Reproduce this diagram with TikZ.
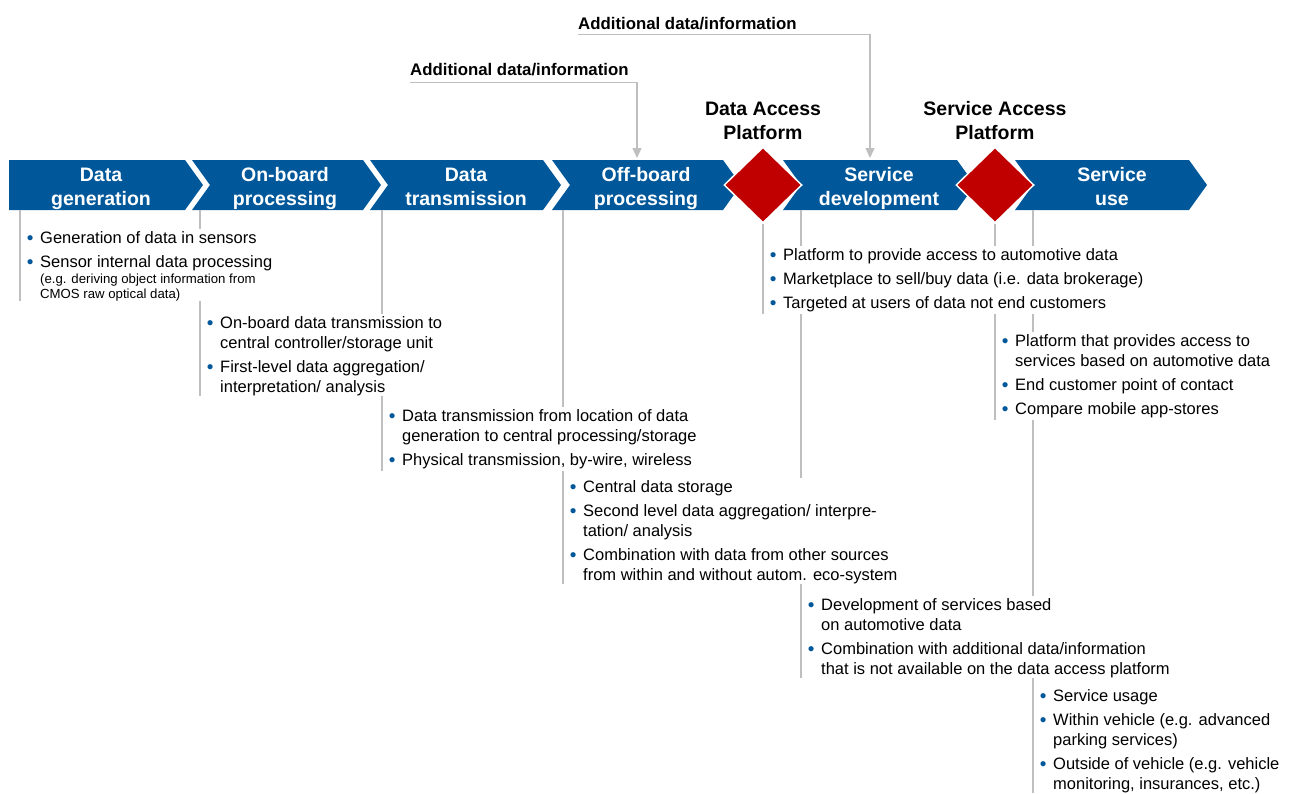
\documentclass[tikz,border=0pt]{standalone}
\usepackage{fontspec}
\setmainfont{Liberation Sans}
\usetikzlibrary{shapes.geometric, arrows.meta}
\definecolor{chevblue}{RGB}{0, 88, 155}
\definecolor{diared}{RGB}{192, 0, 0}
\definecolor{lightgrey}{RGB}{191, 191, 191}
\newcommand{\bul}{\strut\makebox[20pt]{\textcolor{chevblue}{\raisebox{-1.5pt}{\fontsize{19}{20}\selectfont •}}}}
\newcommand{\ind}{\hspace*{20pt}}
\newcommand{\notefont}{\fontsize{13.2}{15}\selectfont}

\begin{document}
\begin{tikzpicture}[x=1pt, y=-1pt,
  stage/.style={anchor=north, inner sep=0pt, align=center, text=white, font=\fontsize{19.5}{24}\selectfont\bfseries},
  platform/.style={diamond, minimum width=78pt, minimum height=76pt, inner sep=0pt, fill=diared, draw=white, line width=1.5pt},
  platlabel/.style={anchor=north, inner sep=0pt, align=center, font=\fontsize{19.5}{24}\selectfont\bfseries},
  notes/.style={anchor=north west, inner sep=0pt, align=left, fill=white, font=\fontsize{16.5}{20}\selectfont},
  guide/.style={draw=lightgrey, line width=1.3pt},
  addinfo/.style={anchor=base west, inner xsep=0pt, inner ysep=7pt, font=\fontsize{16.8}{20}\selectfont\bfseries},
  feed/.style={guide, -{Triangle[length=10pt, width=9pt]}}]

\useasboundingbox (0,0) rectangle (1290,793);
\coordinate (bandbot) at (0,210);
\coordinate (offin) at (637,158);
\coordinate (devin) at (870,158);

% value chain
\fill[chevblue] (9,160) -- (185,160) -- (203,185) -- (185,210) -- (9,210) -- cycle;
\foreach \a/\b in {192/363, 370/543, 552/723, 783/957, 1015/1189}
  \fill[chevblue] (\a,160) -- (\b,160) -- (\b+18,185) -- (\b,210) -- (\a,210) -- (\a+18,185) -- cycle;

\node[stage] (gen) at (101,164.2) {\strut Data\\generation};
\node[stage] (onb) at (285,164.2) {\strut On-board\\processing};
\node[stage] (trans) at (466,164.2) {\strut Data\\transmission};
\node[stage] (offb) at (646,164.2) {\strut Off-board\\processing};
\node[stage] (sdev) at (879,164.2) {\strut Service\\development};
\node[stage] (suse) at (1112,164.2) {\strut Service\\use};

% platforms
\node[platform] (dap) at (763,185) {};
\node[platform] (sap) at (995,185) {};
\node[platlabel] (daplab) at (763,98.2) {\strut Data Access\\Platform};
\node[platlabel] (saplab) at (995,98.2) {\strut Service Access\\Platform};

% additional inputs
\node[addinfo] (addoff) at (410,75) {Additional data/information};
\node[addinfo, inner ysep=5pt] (adddev) at (578,29) {Additional data/information};
\draw[feed] (addoff.south west) -| (offin);
\draw[feed] (adddev.south west) -| (devin);

% notes per step, right to left so that each box hides the lines behind it
\node[notes] (susenotes) at (1033,687) {\bul Service usage\\[4pt]
  \bul Within vehicle (e.g. advanced\\
  \ind parking services)\\[4pt]
  \bul Outside of vehicle (e.g. vehicle\\
  \ind monitoring, insurances, etc.)};
\draw[guide] (susenotes.south west) -- (susenotes.south west |- bandbot);

\node[notes] (sapnotes) at (995,332) {\bul Platform that provides access to\\
  \ind services based on automotive data\\[4pt]
  \bul End customer point of contact\\[4pt]
  \bul Compare mobile app-stores};
\draw[guide] (sap.south) -- (sap.south |- sapnotes.south);

\node[notes] (sdevnotes) at (801,596) {\bul Development of services based\\
  \ind on automotive data\\[4pt]
  \bul Combination with additional data/information\\
  \ind that is not available on the data access platform};
\draw[guide] (sdevnotes.south west) -- (sdevnotes.south west |- bandbot);

\node[notes] (dapnotes) at (763,246) {\bul Platform to provide access to automotive data\\[4pt]
  \bul Marketplace to sell/buy data (i.e. data brokerage)\\[4pt]
  \bul Targeted at users of data not end customers};
\draw[guide] (dap.south) -- (dap.south |- dapnotes.south);

\node[notes] (offbnotes) at (563,478) {\bul Central data storage\\[4pt]
  \bul Second level data aggregation/ interpre-\\
  \ind tation/ analysis\\[4pt]
  \bul Combination with data from other sources\\
  \ind from within and without autom. eco-system};
\draw[guide] (offbnotes.south west) -- (offbnotes.south west |- bandbot);

\node[notes] (transnotes) at (382,407) {\bul Data transmission from location of data\\
  \ind generation to central processing/storage\\[4pt]
  \bul Physical transmission, by-wire, wireless};
\draw[guide] (transnotes.south west) -- (transnotes.south west |- bandbot);

\node[notes] (onbnotes) at (200,314) {\bul On-board data transmission to\\
  \ind central controller/storage unit\\[4pt]
  \bul First-level data aggregation/\\
  \ind interpretation/ analysis};
\draw[guide] (onbnotes.south west) -- (onbnotes.south west |- bandbot);

\node[notes] (gennotes) at (20,229) {\bul Generation of data in sensors\\[4pt]
  \bul Sensor internal data processing\\[-4pt]
  \ind{\notefont (e.g. deriving object information from}\\[-5pt]
  \ind{\notefont CMOS raw optical data)}};
\draw[guide] (gennotes.south west) -- (gennotes.south west |- bandbot);
\end{tikzpicture}
\end{document}
